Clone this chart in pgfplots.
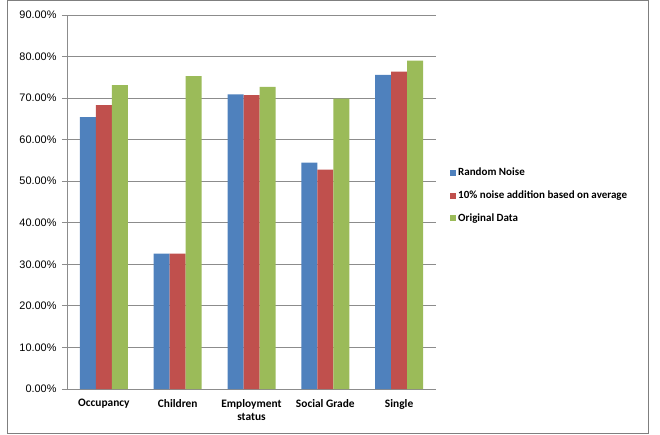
\documentclass[border=0pt]{standalone}
\usepackage{fontspec}
\setmainfont{Carlito}
\newfontfamily\arial{Liberation Sans}
\usepackage{pgfplots}
\pgfplotsset{compat=1.18}

\definecolor{xlblue}{HTML}{4F81BD}
\definecolor{xlred}{HTML}{C0504D}
\definecolor{xlgreen}{HTML}{9BBB59}
\definecolor{gridgray}{HTML}{8C8C8C}
\definecolor{framegray}{HTML}{7F7F7F}

\begin{document}
\begin{tikzpicture}[x=1pt,y=1pt]
\begin{axis}[
  at={(0,0)}, anchor=south west,
  scale only axis,
  width=369pt, height=374pt,
  ybar=0pt, bar width=16pt,
  xmin=-0.5, xmax=4.5,
  ymin=0, ymax=90,
  xtick={0,1,2,3,4},
  xticklabels={Occupancy,Children,{Employment\\status},Social Grade,Single},
  xticklabel style={font=\bfseries\fontsize{11.4}{13.5}\selectfont, align=center, anchor=north, yshift=-1.5pt},
  extra x ticks={0.5,1.5,2.5,3.5,4.5},
  extra x tick labels={},
  extra x tick style={major tick length=5pt, tick style={draw=gridgray}, xtick pos=bottom, tick align=outside, grid=none},
  major x tick style={draw=none},
  ytick={0,10,...,90},
  yticklabels={0.00\%,10.00\%,20.00\%,30.00\%,40.00\%,50.00\%,60.00\%,70.00\%,80.00\%,90.00\%},
  yticklabel style={font=\arial\fontsize{10.9}{13}\selectfont, xshift=-2pt},
  ymajorgrids, grid style={draw=gridgray, line width=0.8pt},
  ytick pos=left, ytick align=outside,
  major tick length=5pt,
  axis x line*=bottom, axis y line*=left,
  axis line style={draw=gridgray, line width=0.8pt},
  every tick/.style={draw=gridgray, line width=0.8pt},
  legend style={at={(383pt,223pt)}, anchor=north west, draw=none, fill=none,
    font=\bfseries\fontsize{11}{13}\selectfont, row sep=9.5pt,
    inner sep=0pt, cells={anchor=west}},
  legend image code/.code={\fill[#1] (0pt,-3pt) rectangle (6pt,3pt);},
  clip=false,
]
\addplot[fill=xlblue, draw=none] coordinates {(0,65.4) (1,32.6) (2,70.9) (3,54.5) (4,75.6)};
\addplot[fill=xlred, draw=none] coordinates {(0,68.3) (1,32.6) (2,70.7) (3,52.8) (4,76.4)};
\addplot[fill=xlgreen, draw=none] coordinates {(0,73.1) (1,75.3) (2,72.7) (3,69.9) (4,79.0)};
\legend{Random Noise,10\% noise addition based on average,Original Data}
\end{axis}
% outer chart frame
\draw[framegray, line width=1pt] (-59,-44) rectangle (581,388);
\path (-67,-45) rectangle (593,389);
\end{tikzpicture}
\end{document}
